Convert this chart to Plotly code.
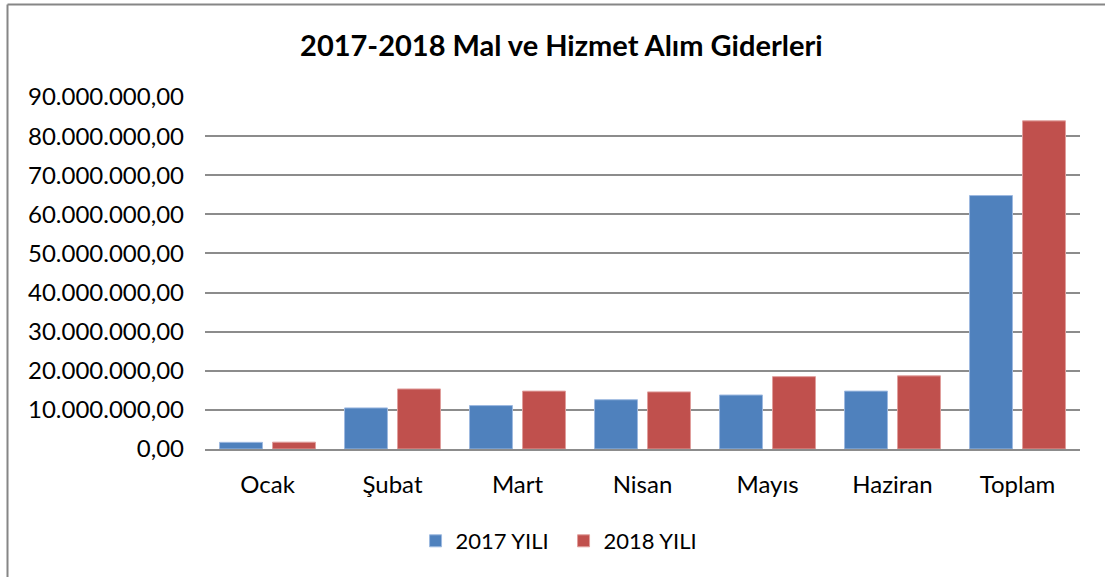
import plotly.graph_objects as go

categories = ["Ocak", "Şubat", "Mart", "Nisan", "Mayıs", "Haziran", "Toplam"]
values_2017 = [1700000, 10500000, 11100000, 12600000, 13800000, 14800000, 64800000]
values_2018 = [1750000, 15350000, 14800000, 14600000, 18500000, 18700000, 83900000]
series_names = ["2017 YILI", "2018 YILI"]
tick_values = [0, 10000000, 20000000, 30000000, 40000000, 50000000, 60000000, 70000000, 80000000, 90000000]

FONT = "Lato, Carlito, Calibri, sans-serif"

fig = go.Figure()
fig.add_trace(go.Bar(x=categories, y=values_2017, name=series_names[0],
                     marker=dict(color="#4F81BD", line=dict(color="#9DB9E0", width=1))))
fig.add_trace(go.Bar(x=categories, y=values_2018, name=series_names[1],
                     marker=dict(color="#C0504D", line=dict(color="#E09E9C", width=1))))

fig.update_layout(
    width=1105, height=577,
    margin=dict(l=205, r=25, t=97, b=128, autoexpand=False),
    paper_bgcolor="white", plot_bgcolor="white",
    separators=",.",
    font=dict(family=FONT, size=24, color="black"),
    title=dict(text="<b>2017-2018 Mal ve Hizmet Alım Giderleri</b>",
               x=0.508, xref="container", xanchor="center",
               y=1 - 46 / 577, yref="container", yanchor="middle",
               font=dict(family=FONT, size=29, color="black")),
    bargap=0.152, bargroupgap=0.19,
    legend=dict(orientation="h", x=0.51, xref="container", xanchor="center",
                y=1 - 541 / 577, yref="container", yanchor="middle", font=dict(size=22),
                tracegroupgap=0, entrywidth=103, entrywidthmode="pixels"),
    showlegend=True,
)
fig.update_yaxes(range=[0, 90000000], tickvals=tick_values, tickformat=",.2f",
                 showgrid=True, gridcolor="#8C8C8C", gridwidth=1.5,
                 zeroline=False, showline=False, ticks="", ticklabelstandoff=20,
                 automargin=False, tickfont=dict(size=24))
fig.update_xaxes(showline=True, linecolor="#8C8C8C", linewidth=2, ticks="",
                 ticklabelstandoff=13, showgrid=False, automargin=False, tickangle=0,
                 tickfont=dict(size=24))

# outer chart border (top and left edges visible)
x_left = (7.5 - 205) / 875
y_top = (449 - 4.5) / 352
fig.add_shape(type="line", xref="paper", yref="paper",
              x0=x_left, x1=(1105 - 205) / 875, y0=y_top, y1=y_top,
              line=dict(color="#868686", width=2), layer="below")
fig.add_shape(type="line", xref="paper", yref="paper",
              x0=x_left, x1=x_left, y0=y_top, y1=(449 - 577) / 352,
              line=dict(color="#868686", width=2), layer="below")

fig.write_html("out.html", config={"displayModeBar": False},
               post_script="document.body.style.margin='0';")
